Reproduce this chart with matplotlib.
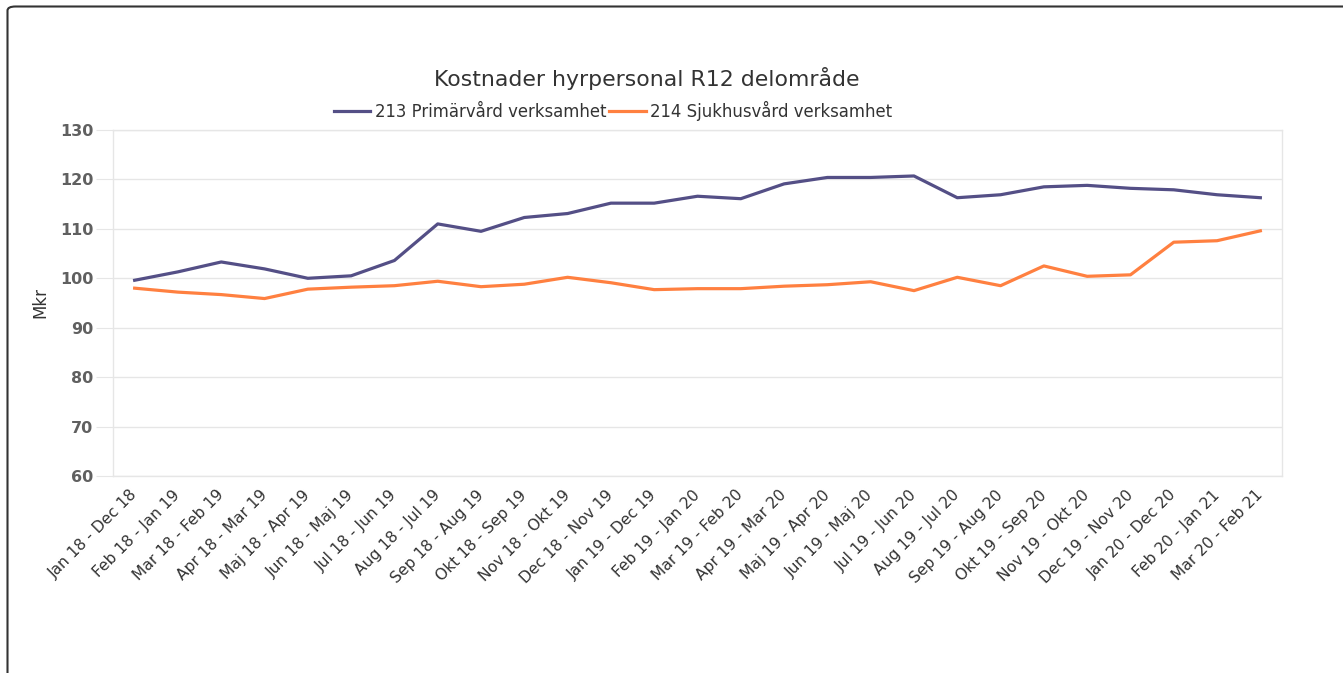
import matplotlib.pyplot as plt
from matplotlib.patches import FancyBboxPatch
import numpy as np

# periods (rolling 12 months)
periods = ["Jan 18 - Dec 18", "Feb 18 - Jan 19", "Mar 18 - Feb 19", "Apr 18 - Mar 19",
           "Maj 18 - Apr 19", "Jun 18 - Maj 19", "Jul 18 - Jun 19", "Aug 18 - Jul 19",
           "Sep 18 - Aug 19", "Okt 18 - Sep 19", "Nov 18 - Okt 19", "Dec 18 - Nov 19",
           "Jan 19 - Dec 19", "Feb 19 - Jan 20", "Mar 19 - Feb 20", "Apr 19 - Mar 20",
           "Maj 19 - Apr 20", "Jun 19 - Maj 20", "Jul 19 - Jun 20", "Aug 19 - Jul 20",
           "Sep 19 - Aug 20", "Okt 19 - Sep 20", "Nov 19 - Okt 20", "Dec 19 - Nov 20",
           "Jan 20 - Dec 20", "Feb 20 - Jan 21", "Mar 20 - Feb 21"]

primarvard = [99.6, 101.3, 103.3, 101.9, 100.0, 100.5, 103.6, 111.0, 109.5, 112.3,
              113.1, 115.2, 115.2, 116.6, 116.1, 119.1, 120.4, 120.4, 120.7, 116.3,
              116.9, 118.5, 118.8, 118.2, 117.9, 116.9, 116.3]
sjukhusvard = [98.0, 97.2, 96.7, 95.9, 97.8, 98.2, 98.5, 99.4, 98.3, 98.8,
               100.2, 99.1, 97.7, 97.9, 97.9, 98.4, 98.7, 99.3, 97.5, 100.2,
               98.5, 102.5, 100.4, 100.7, 107.3, 107.6, 109.6]

W, H = 1343, 673
fig = plt.figure(figsize=(W / 100, H / 100), dpi=100)

# outer frame (cut off at right and bottom like the screenshot)
frame = FancyBboxPatch((7.5 / W, -0.05), 1.1, (H - 6.5) / H + 0.05,
                       boxstyle="round,pad=0,rounding_size=0.006",
                       transform=fig.transFigure, fill=False,
                       edgecolor="#333333", linewidth=1.5)
fig.patches.append(frame)

ax = fig.add_axes([113 / W, (H - 476) / H, (1282 - 113) / W, (476 - 130) / H])

x = np.arange(len(periods))
ax.plot(x, primarvard, color="#544f86", lw=2.3, label="213 Primärvård verksamhet",
        solid_joinstyle="round")
ax.plot(x, sjukhusvard, color="#ff8040", lw=2.3, label="214 Sjukhusvård verksamhet",
        solid_joinstyle="round")

ax.set_xlim(-0.5, len(periods) - 0.5)
ax.set_ylim(60, 130)
ax.set_yticks(range(60, 131, 10))
ax.grid(axis="y", color="#e6e6e6", lw=1)
ax.set_axisbelow(True)
for s in ax.spines.values():
    s.set_color("#e6e6e6")
    s.set_linewidth(1)

ax.tick_params(axis="y", length=12, color="#e6e6e6", labelsize=11.5,
               labelcolor="#606060", pad=2)
for lbl in ax.get_yticklabels():
    lbl.set_fontweight("bold")

ax.set_xticks(x)
ax.set_xticklabels(periods, rotation=45, ha="right", va="center",
                   rotation_mode="anchor", fontsize=11.2, color="#333333")
ax.tick_params(axis="x", length=0, pad=12)

ax.set_ylabel("Mkr", fontsize=12, color="#333333", labelpad=8)

fig.text(647 / W, 1 - 78 / H, "Kostnader hyrpersonal R12 delområde",
         ha="center", va="center", fontsize=15.8, color="#333333")

leg = ax.legend(loc="center", bbox_to_anchor=(613 / W, 1 - 111 / H),
                bbox_transform=fig.transFigure, ncol=2, frameon=False,
                fontsize=11.9, handlelength=2.2, handletextpad=0.25,
                columnspacing=0.2)
for t in leg.get_texts():
    t.set_color("#333333")

fig.savefig("out.png", dpi=100)
